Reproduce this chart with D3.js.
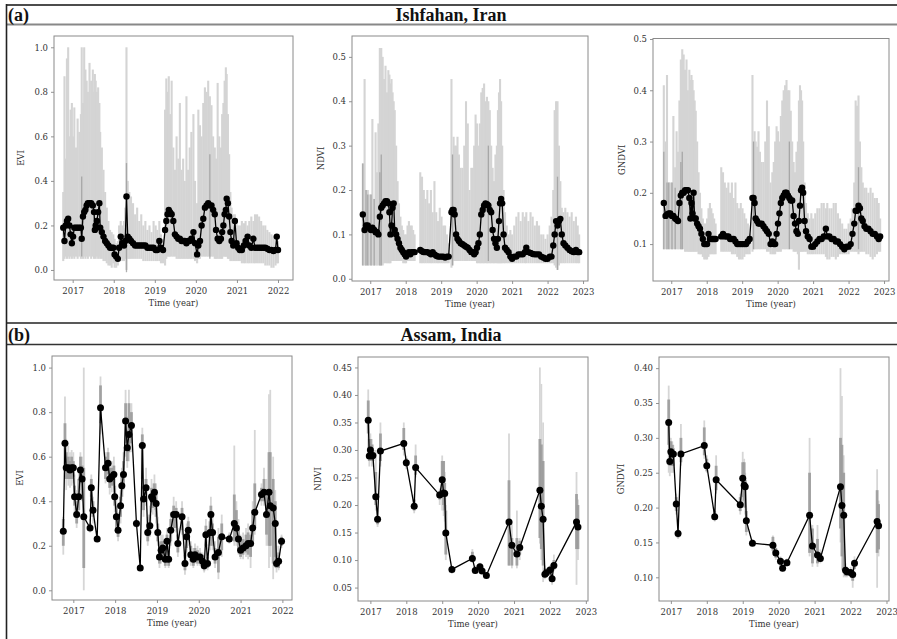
<!DOCTYPE html>
<html>
<head>
<meta charset="utf-8">
<script src="https://cdn.jsdelivr.net/npm/d3@7"></script>
<style>
  body { margin: 0; background: #fff; }
  svg { display: block; }
</style>
</head>
<body>
<script>

// ---------- labels ----------
const sectionTags = ["(a)", "(b)"];
const siteNames = ["Ishfahan, Iran", "Assam, India"];
const indexNames = ["EVI", "NDVI", "GNDVI"];
const years6 = [2017, 2018, 2019, 2020, 2021, 2022];
const years7 = [2017, 2018, 2019, 2020, 2021, 2022, 2023];
const evTicks = [0.0, 0.2, 0.4, 0.6, 0.8, 1.0];
const ndviATicks = [0.0, 0.1, 0.2, 0.3, 0.4, 0.5];
const gndviATicks = [0.1, 0.2, 0.3, 0.4, 0.5];
const ndviBTicks = [0.05, 0.10, 0.15, 0.20, 0.25, 0.30, 0.35, 0.40, 0.45];
const gndviBTicks = [0.10, 0.15, 0.20, 0.25, 0.30, 0.35, 0.40];

// ---------- (a) Ishfahan, EVI ----------
const evaT = [
  2016.77, 2016.80, 2016.83, 2016.86, 2016.89, 2016.92, 2016.95, 2016.98, 2017.01, 2017.04,
  2017.08, 2017.12, 2017.16, 2017.20, 2017.22, 2017.25, 2017.28, 2017.31, 2017.34, 2017.37,
  2017.41, 2017.45, 2017.49, 2017.52, 2017.54, 2017.56, 2017.59, 2017.62, 2017.65, 2017.67,
  2017.71, 2017.75, 2017.79, 2017.83, 2017.87, 2017.91, 2017.95, 2017.99, 2018.02, 2018.06,
  2018.10, 2018.13, 2018.17, 2018.21, 2018.25, 2018.28, 2018.31, 2018.34, 2018.38, 2018.42,
  2018.47, 2018.52, 2018.57, 2018.62, 2018.67, 2018.72, 2018.77, 2018.82, 2018.87, 2018.92,
  2018.97, 2019.02, 2019.06, 2019.11, 2019.15, 2019.20, 2019.25, 2019.28, 2019.31, 2019.34,
  2019.37, 2019.41, 2019.45, 2019.49, 2019.53, 2019.57, 2019.61, 2019.65, 2019.69, 2019.73,
  2019.77, 2019.81, 2019.85, 2019.89, 2019.94, 2019.98, 2020.03, 2020.06, 2020.10, 2020.14,
  2020.18, 2020.22, 2020.26, 2020.30, 2020.34, 2020.38, 2020.42, 2020.46, 2020.49, 2020.53,
  2020.57, 2020.61, 2020.64, 2020.67, 2020.70, 2020.73, 2020.75, 2020.78, 2020.81, 2020.84,
  2020.87, 2020.91, 2020.95, 2020.99, 2021.03, 2021.07, 2021.12, 2021.17, 2021.21, 2021.26,
  2021.30, 2021.35, 2021.40, 2021.44, 2021.49, 2021.54, 2021.59, 2021.64, 2021.69, 2021.74,
  2021.79, 2021.84, 2021.89, 2021.94, 2021.97, 2022.00
];
const evaM = [
  0.19, 0.13, 0.20, 0.22, 0.23, 0.20, 0.16, 0.12, 0.15, 0.19,
  0.19, 0.19, 0.19, 0.19, 0.14, 0.24, 0.26, 0.27, 0.29, 0.30,
  0.30, 0.30, 0.29, 0.26, 0.18, 0.20, 0.22, 0.26, 0.30, 0.19,
  0.17, 0.15, 0.13, 0.12, 0.11, 0.10, 0.10, 0.10, 0.07, 0.06,
  0.05, 0.10, 0.15, 0.12, 0.11, 0.13, 0.33, 0.15, 0.14, 0.13,
  0.12, 0.11, 0.11, 0.11, 0.11, 0.11, 0.11, 0.10, 0.10, 0.10,
  0.10, 0.09, 0.09, 0.13, 0.10, 0.09, 0.18, 0.22, 0.25, 0.27,
  0.26, 0.25, 0.22, 0.16, 0.15, 0.14, 0.14, 0.13, 0.13, 0.13,
  0.12, 0.13, 0.13, 0.14, 0.17, 0.12, 0.07, 0.11, 0.13, 0.20,
  0.23, 0.28, 0.29, 0.30, 0.29, 0.29, 0.27, 0.25, 0.18, 0.14,
  0.13, 0.14, 0.17, 0.20, 0.25, 0.27, 0.32, 0.30, 0.24, 0.17,
  0.13, 0.11, 0.22, 0.12, 0.10, 0.09, 0.09, 0.11, 0.13, 0.15,
  0.11, 0.10, 0.14, 0.10, 0.10, 0.10, 0.10, 0.10, 0.10, 0.095,
  0.09, 0.09, 0.085, 0.09, 0.15, 0.09
];
const evaHi = [
  0.35, 0.87, 0.50, 0.95, 1.00, 0.60, 0.72, 0.75, 0.60, 0.73,
  0.55, 0.68, 0.62, 0.70, 1.00, 0.75, 1.00, 0.90, 0.85, 0.80,
  0.93, 0.85, 0.90, 0.80, 0.88, 0.85, 0.80, 0.82, 0.75, 0.62,
  0.55, 0.45, 0.35, 0.28, 0.22, 0.18, 0.17, 0.16, 0.14, 0.12,
  0.13, 0.20, 0.22, 0.20, 0.22, 0.28, 1.00, 0.40, 0.35, 0.33,
  0.30, 0.25, 0.28, 0.22, 0.25, 0.20, 0.22, 0.18, 0.20, 0.17,
  0.22, 0.20, 0.18, 0.22, 0.16, 0.14, 0.72, 0.86, 0.80, 0.87,
  0.70, 0.85, 0.55, 0.45, 0.60, 0.50, 0.75, 0.45, 0.50, 0.40,
  0.78, 0.45, 0.55, 0.62, 0.70, 0.40, 0.30, 0.72, 0.65, 0.60,
  0.75, 0.82, 0.80, 0.85, 0.78, 0.74, 0.60, 0.55, 0.50, 0.84,
  0.60, 0.55, 0.70, 0.75, 0.85, 0.91, 0.88, 0.70, 0.52, 0.35,
  0.28, 0.25, 0.25, 0.22, 0.20, 0.20, 0.22, 0.21, 0.22, 0.20,
  0.22, 0.24, 0.22, 0.25, 0.25, 0.24, 0.22, 0.20, 0.20, 0.18,
  0.17, 0.16, 0.15, 0.15, 0.16, 0.13
];
const evaLo = [
  0.04, 0.05, 0.06, 0.05, 0.06, 0.05, 0.06, 0.05, 0.06, 0.05,
  0.06, 0.05, 0.06, 0.05, 0.06, 0.05, 0.06, 0.05, 0.06, 0.05,
  0.06, 0.05, 0.06, 0.05, 0.06, 0.05, 0.06, 0.05, 0.06, 0.05,
  0.05, 0.04, 0.04, 0.03, 0.02, 0.02, 0.01, 0.03, 0.01, 0.01,
  0.02, 0.04, 0.05, 0.04, 0.04, 0.05, 0.00, 0.05, 0.05, 0.05,
  0.05, 0.05, 0.05, 0.05, 0.05, 0.04, 0.04, 0.04, 0.04, 0.04,
  0.04, 0.04, 0.04, 0.04, 0.03, 0.03, 0.02, 0.05, 0.06, 0.06,
  0.06, 0.06, 0.06, 0.06, 0.05, 0.05, 0.05, 0.05, 0.05, 0.05,
  0.05, 0.05, 0.05, 0.05, 0.05, 0.04, 0.03, 0.05, 0.05, 0.06,
  0.06, 0.06, 0.06, 0.06, 0.06, 0.06, 0.06, 0.05, 0.05, 0.05,
  0.05, 0.05, 0.05, 0.06, 0.06, 0.06, 0.06, 0.05, 0.05, 0.04,
  0.04, 0.04, 0.04, 0.04, 0.04, 0.04, 0.03, 0.03, 0.03, 0.03,
  0.03, 0.03, 0.03, 0.03, 0.03, 0.03, 0.03, 0.03, 0.02, 0.02,
  0.02, 0.01, 0.01, 0.02, 0.03, 0.03
];
const evaDarkT = [2017.22, 2018.31, 2020.34];
const evaDarkLo = [0.06, -0.01, 0.05];
const evaDarkHi = [0.42, 0.48, 0.52];

// ---------- (a) Ishfahan, NDVI and GNDVI (same acquisition dates) ----------
const ndT = [
  2016.79, 2016.84, 2016.88, 2016.93, 2016.97, 2017.02, 2017.06, 2017.11, 2017.15, 2017.19,
  2017.23, 2017.27, 2017.31, 2017.35, 2017.39, 2017.43, 2017.47, 2017.51, 2017.54, 2017.57,
  2017.60, 2017.63, 2017.66, 2017.69, 2017.73, 2017.77, 2017.81, 2017.85, 2017.89, 2017.93,
  2017.97, 2018.01, 2018.05, 2018.09, 2018.13, 2018.17, 2018.21, 2018.25, 2018.41, 2018.46,
  2018.51, 2018.56, 2018.61, 2018.66, 2018.71, 2018.76, 2018.81, 2018.86, 2018.91, 2018.96,
  2019.01, 2019.06, 2019.11, 2019.16, 2019.21, 2019.29, 2019.32, 2019.35, 2019.38, 2019.42,
  2019.46, 2019.50, 2019.55, 2019.60, 2019.65, 2019.70, 2019.75, 2019.80, 2019.85, 2019.89,
  2019.93, 2019.97, 2020.01, 2020.05, 2020.09, 2020.13, 2020.17, 2020.21, 2020.25, 2020.29,
  2020.33, 2020.37, 2020.41, 2020.45, 2020.49, 2020.53, 2020.57, 2020.60, 2020.63, 2020.66,
  2020.69, 2020.72, 2020.76, 2020.80, 2020.85, 2020.90, 2020.95, 2021.00, 2021.06, 2021.12,
  2021.18, 2021.24, 2021.30, 2021.36, 2021.40, 2021.46, 2021.52, 2021.58, 2021.64, 2021.70,
  2021.76, 2021.82, 2021.88, 2021.94, 2022.00, 2022.06, 2022.11, 2022.16, 2022.20, 2022.24,
  2022.28, 2022.32, 2022.36, 2022.40, 2022.45, 2022.50, 2022.56, 2022.62, 2022.68, 2022.74,
  2022.80, 2022.85, 2022.89
];
const ndviaM = [
  0.145, 0.11, 0.12, 0.12, 0.115, 0.11, 0.115, 0.11, 0.105, 0.105,
  0.10, 0.14, 0.16, 0.165, 0.17, 0.175, 0.175, 0.17, 0.15, 0.10,
  0.12, 0.16, 0.17, 0.11, 0.10, 0.09, 0.08, 0.07, 0.065, 0.06,
  0.055, 0.05, 0.055, 0.06, 0.055, 0.06, 0.06, 0.06, 0.065, 0.062,
  0.06, 0.06, 0.06, 0.058, 0.055, 0.06, 0.055, 0.052, 0.05, 0.05,
  0.05, 0.05, 0.048, 0.05, 0.05, 0.15, 0.155, 0.155, 0.145, 0.10,
  0.09, 0.085, 0.08, 0.078, 0.075, 0.072, 0.07, 0.065, 0.06, 0.06,
  0.055, 0.06, 0.07, 0.08, 0.10, 0.145, 0.155, 0.165, 0.17, 0.168,
  0.165, 0.155, 0.15, 0.11, 0.09, 0.08, 0.07, 0.09, 0.13, 0.17,
  0.18, 0.17, 0.10, 0.07, 0.065, 0.06, 0.05, 0.045, 0.05, 0.05,
  0.055, 0.055, 0.055, 0.06, 0.07, 0.06, 0.058, 0.056, 0.055, 0.055,
  0.055, 0.05, 0.048, 0.045, 0.045, 0.05, 0.05, 0.075, 0.10, 0.13,
  0.12, 0.13, 0.135, 0.10, 0.08, 0.075, 0.07, 0.065, 0.062, 0.06,
  0.065, 0.06, 0.06
];
const ndviaHi = [
  0.26, 0.45, 0.20, 0.20, 0.19, 0.19, 0.36, 0.18, 0.33, 0.24,
  0.35, 0.52, 0.52, 0.50, 0.45, 0.48, 0.42, 0.47, 0.46, 0.44,
  0.45, 0.42, 0.40, 0.38, 0.30, 0.22, 0.17, 0.14, 0.12, 0.11,
  0.10, 0.10, 0.12, 0.13, 0.12, 0.12, 0.11, 0.10, 0.24, 0.23,
  0.20, 0.18, 0.20, 0.17, 0.20, 0.15, 0.22, 0.15, 0.13, 0.16,
  0.14, 0.12, 0.12, 0.10, 0.08, 0.45, 0.28, 0.32, 0.30, 0.30,
  0.32, 0.28, 0.25, 0.25, 0.30, 0.40, 0.35, 0.20, 0.25, 0.25,
  0.30, 0.37, 0.35, 0.30, 0.35, 0.42, 0.43, 0.44, 0.40, 0.41,
  0.40, 0.38, 0.30, 0.25, 0.22, 0.28, 0.30, 0.38, 0.42, 0.45,
  0.40, 0.30, 0.20, 0.15, 0.12, 0.10, 0.11, 0.10, 0.12, 0.14,
  0.15, 0.13, 0.15, 0.14, 0.15, 0.13, 0.15, 0.14, 0.12, 0.13,
  0.12, 0.10, 0.10, 0.09, 0.10, 0.12, 0.14, 0.20, 0.38, 0.40,
  0.40, 0.30, 0.22, 0.16, 0.15, 0.16, 0.15, 0.14, 0.15, 0.13,
  0.14, 0.12, 0.10
];
const ndviaLo = [
  0.03, 0.03, 0.03, 0.03, 0.03, 0.03, 0.03, 0.03, 0.03, 0.03,
  0.03, 0.03, 0.03, 0.03, 0.035, 0.035, 0.035, 0.035, 0.035, 0.035,
  0.04, 0.04, 0.04, 0.04, 0.04, 0.04, 0.04, 0.04, 0.04, 0.035,
  0.035, 0.035, 0.04, 0.04, 0.04, 0.04, 0.04, 0.04, 0.035, 0.035,
  0.035, 0.035, 0.035, 0.035, 0.035, 0.035, 0.035, 0.035, 0.035, 0.035,
  0.035, 0.035, 0.035, 0.035, 0.035, 0.025, 0.03, 0.04, 0.04, 0.04,
  0.04, 0.04, 0.04, 0.04, 0.04, 0.04, 0.04, 0.04, 0.04, 0.04,
  0.04, 0.04, 0.035, 0.035, 0.035, 0.035, 0.035, 0.035, 0.035, 0.035,
  0.035, 0.035, 0.035, 0.035, 0.035, 0.035, 0.035, 0.035, 0.035, 0.035,
  0.035, 0.035, 0.035, 0.035, 0.035, 0.035, 0.035, 0.035, 0.035, 0.035,
  0.035, 0.035, 0.035, 0.035, 0.035, 0.035, 0.035, 0.035, 0.035, 0.035,
  0.035, 0.035, 0.035, 0.035, 0.035, 0.035, 0.035, 0.035, 0.03, 0.025,
  0.02, 0.03, 0.035, 0.035, 0.035, 0.035, 0.035, 0.035, 0.035, 0.035,
  0.035, 0.035, 0.035
];
const gndviaM = [
  0.18, 0.155, 0.158, 0.16, 0.16, 0.155, 0.155, 0.15, 0.148, 0.145,
  0.18, 0.195, 0.20, 0.20, 0.205, 0.205, 0.205, 0.19, 0.15, 0.18,
  0.16, 0.20, 0.15, 0.15, 0.14, 0.135, 0.13, 0.12, 0.11, 0.10,
  0.10, 0.10, 0.12, 0.11, 0.11, 0.11, 0.11, 0.11, 0.115, 0.12,
  0.115, 0.115, 0.115, 0.11, 0.11, 0.11, 0.105, 0.10, 0.10, 0.10,
  0.10, 0.10, 0.10, 0.105, 0.11, 0.19, 0.19, 0.18, 0.15, 0.145,
  0.14, 0.14, 0.14, 0.135, 0.13, 0.125, 0.12, 0.10, 0.105, 0.10,
  0.10, 0.12, 0.14, 0.16, 0.18, 0.19, 0.195, 0.20, 0.20, 0.195,
  0.19, 0.185, 0.185, 0.155, 0.14, 0.125, 0.12, 0.145, 0.175, 0.205,
  0.21, 0.20, 0.145, 0.125, 0.115, 0.11, 0.095, 0.095, 0.10, 0.105,
  0.11, 0.11, 0.115, 0.13, 0.115, 0.115, 0.11, 0.11, 0.105, 0.105,
  0.10, 0.095, 0.09, 0.095, 0.095, 0.10, 0.12, 0.14, 0.165, 0.165,
  0.175, 0.17, 0.15, 0.145, 0.135, 0.13, 0.13, 0.125, 0.12, 0.12,
  0.115, 0.11, 0.115
];
const gndviaHi = [
  0.41, 0.30, 0.43, 0.22, 0.22, 0.22, 0.35, 0.25, 0.32, 0.28,
  0.38, 0.46, 0.48, 0.47, 0.44, 0.46, 0.40, 0.44, 0.42, 0.43,
  0.42, 0.40, 0.38, 0.36, 0.30, 0.24, 0.20, 0.17, 0.15, 0.14,
  0.14, 0.15, 0.17, 0.18, 0.17, 0.16, 0.15, 0.14, 0.25, 0.24,
  0.22, 0.21, 0.22, 0.20, 0.22, 0.19, 0.22, 0.18, 0.17, 0.18,
  0.17, 0.16, 0.15, 0.14, 0.12, 0.43, 0.30, 0.32, 0.30, 0.29,
  0.32, 0.28, 0.26, 0.26, 0.30, 0.38, 0.33, 0.22, 0.24, 0.26,
  0.30, 0.33, 0.32, 0.30, 0.35, 0.38, 0.40, 0.41, 0.42, 0.40,
  0.40, 0.36, 0.30, 0.26, 0.24, 0.28, 0.30, 0.38, 0.41, 0.40,
  0.38, 0.30, 0.22, 0.18, 0.16, 0.15, 0.16, 0.15, 0.16, 0.17,
  0.17, 0.18, 0.18, 0.17, 0.18, 0.17, 0.17, 0.18, 0.18, 0.16,
  0.15, 0.14, 0.13, 0.13, 0.14, 0.15, 0.17, 0.22, 0.38, 0.37,
  0.39, 0.30, 0.25, 0.22, 0.21, 0.21, 0.20, 0.21, 0.20, 0.19,
  0.19, 0.18, 0.15
];
const gndviaLo = [
  0.09, 0.09, 0.09, 0.09, 0.09, 0.09, 0.09, 0.09, 0.09, 0.09,
  0.09, 0.09, 0.09, 0.09, 0.085, 0.085, 0.085, 0.085, 0.085, 0.085,
  0.085, 0.085, 0.085, 0.085, 0.085, 0.08, 0.08, 0.08, 0.075, 0.07,
  0.07, 0.07, 0.075, 0.08, 0.08, 0.08, 0.08, 0.08, 0.085, 0.085,
  0.085, 0.085, 0.085, 0.085, 0.08, 0.08, 0.08, 0.075, 0.07, 0.07,
  0.07, 0.075, 0.08, 0.08, 0.08, 0.085, 0.09, 0.09, 0.09, 0.09,
  0.09, 0.09, 0.09, 0.09, 0.09, 0.085, 0.085, 0.08, 0.08, 0.08,
  0.08, 0.085, 0.085, 0.085, 0.085, 0.09, 0.09, 0.09, 0.09, 0.09,
  0.09, 0.09, 0.09, 0.085, 0.085, 0.085, 0.08, 0.05, 0.085, 0.085,
  0.085, 0.085, 0.085, 0.085, 0.08, 0.08, 0.08, 0.08, 0.08, 0.08,
  0.08, 0.08, 0.08, 0.075, 0.07, 0.07, 0.075, 0.075, 0.07, 0.075,
  0.08, 0.08, 0.08, 0.08, 0.08, 0.085, 0.085, 0.085, 0.085, 0.085,
  0.08, 0.085, 0.085, 0.085, 0.085, 0.08, 0.08, 0.075, 0.07, 0.075,
  0.08, 0.085, 0.085
];
const ndDarkT = [2016.79, 2016.88, 2016.93, 2017.02, 2017.11, 2017.27, 2017.31, 2019.32, 2020.33, 2022.28];
const ndviaDarkLo = [0.03, 0.03, 0.03, 0.03, 0.03, 0.03, 0.03, 0.03, 0.04, 0.02];
const ndviaDarkHi = [0.26, 0.20, 0.19, 0.19, 0.18, 0.24, 0.28, 0.28, 0.30, 0.23];
const gndviaDarkLo = [0.09, 0.09, 0.09, 0.09, 0.09, 0.09, 0.09, 0.09, 0.09, 0.09];
const gndviaDarkHi = [0.28, 0.22, 0.22, 0.22, 0.21, 0.26, 0.28, 0.30, 0.30, 0.25];

// ---------- (b) Assam, EVI ----------
const evbT = [
  2016.76, 2016.80, 2016.83, 2016.88, 2016.92, 2016.96, 2017.00, 2017.03, 2017.08, 2017.13,
  2017.17, 2017.21, 2017.25, 2017.40, 2017.43, 2017.47, 2017.57, 2017.65, 2017.77, 2017.83,
  2017.87, 2017.92, 2017.97, 2017.99, 2018.03, 2018.07, 2018.13, 2018.16, 2018.20, 2018.25,
  2018.29, 2018.33, 2018.39, 2018.51, 2018.60, 2018.65, 2018.68, 2018.74, 2018.78, 2018.83,
  2018.87, 2018.90, 2018.94, 2018.98, 2019.02, 2019.06, 2019.10, 2019.14, 2019.20, 2019.24,
  2019.28, 2019.33, 2019.40, 2019.46, 2019.50, 2019.60, 2019.67, 2019.71, 2019.75, 2019.81,
  2019.87, 2019.91, 2019.97, 2020.03, 2020.09, 2020.13, 2020.17, 2020.21, 2020.27, 2020.29,
  2020.33, 2020.39, 2020.47, 2020.55, 2020.73, 2020.85, 2020.90, 2020.95, 2021.00, 2021.06,
  2021.13, 2021.18, 2021.24, 2021.29, 2021.34, 2021.50, 2021.56, 2021.62, 2021.68, 2021.71,
  2021.78, 2021.83, 2021.86, 2021.91, 2021.98
];
const evbM = [
  0.265, 0.66, 0.55, 0.55, 0.54, 0.55, 0.55, 0.42, 0.34, 0.42,
  0.54, 0.50, 0.33, 0.28, 0.46, 0.36, 0.23, 0.82, 0.55, 0.57,
  0.50, 0.51, 0.52, 0.42, 0.33, 0.27, 0.38, 0.47, 0.52, 0.76,
  0.64, 0.70, 0.74, 0.30, 0.10, 0.65, 0.41, 0.46, 0.26, 0.29,
  0.42, 0.41, 0.44, 0.39, 0.26, 0.15, 0.18, 0.19, 0.14, 0.22,
  0.14, 0.27, 0.34, 0.34, 0.21, 0.33, 0.12, 0.24, 0.27, 0.16,
  0.14, 0.16, 0.15, 0.15, 0.13, 0.11, 0.25, 0.12, 0.26, 0.34,
  0.26, 0.15, 0.17, 0.24, 0.23, 0.30, 0.28, 0.23, 0.18, 0.19,
  0.20, 0.21, 0.21, 0.28, 0.35, 0.43, 0.44, 0.34, 0.44, 0.38,
  0.37, 0.30, 0.12, 0.13, 0.22
];
const evbHi = [
  0.33, 0.87, 0.68, 0.65, 0.62, 0.63, 0.62, 0.52, 0.45, 0.55,
  0.62, 0.60, 1.00, 0.32, 0.52, 0.42, 0.25, 0.96, 0.62, 0.64,
  0.58, 0.58, 0.60, 0.50, 0.42, 0.35, 0.45, 0.55, 0.62, 0.90,
  0.78, 0.90, 0.84, 0.32, 0.12, 0.73, 0.50, 0.55, 0.33, 0.38,
  0.50, 0.48, 0.52, 0.48, 0.33, 0.22, 0.25, 0.25, 0.20, 0.28,
  0.20, 0.35, 0.42, 0.40, 0.28, 0.40, 0.18, 0.30, 0.33, 0.22,
  0.19, 0.21, 0.20, 0.19, 0.17, 0.15, 0.32, 0.17, 0.35, 0.42,
  0.34, 0.22, 0.28, 0.34, 0.26, 0.65, 0.40, 0.32, 0.25, 0.26,
  0.28, 0.30, 0.28, 0.40, 0.72, 0.48, 0.55, 0.50, 0.88, 0.90,
  0.60, 0.45, 0.20, 0.20, 0.25
];
const evbLo = [
  0.16, 0.50, 0.45, 0.47, 0.46, 0.47, 0.48, 0.35, 0.28, 0.33,
  0.45, 0.40, 0.00, 0.26, 0.40, 0.30, 0.22, 0.70, 0.48, 0.50,
  0.43, 0.44, 0.44, 0.35, 0.26, 0.22, 0.30, 0.40, 0.45, 0.60,
  0.55, 0.58, 0.62, 0.28, 0.09, 0.45, 0.33, 0.38, 0.20, 0.24,
  0.35, 0.34, 0.36, 0.30, 0.20, 0.10, 0.12, 0.13, 0.10, 0.16,
  0.10, 0.20, 0.26, 0.26, 0.15, 0.25, 0.07, 0.17, 0.20, 0.11,
  0.10, 0.12, 0.11, 0.11, 0.10, 0.08, 0.18, 0.09, 0.18, 0.25,
  0.18, 0.10, 0.05, 0.15, 0.21, 0.20, 0.20, 0.16, 0.14, 0.14,
  0.15, 0.14, 0.10, 0.20, 0.25, 0.38, 0.38, 0.20, 0.10, 0.15,
  0.05, 0.10, 0.08, 0.09, 0.19
];
const evbDHi = [
  0.32, 0.75, 0.62, 0.60, 0.58, 0.60, 0.58, 0.47, 0.40, 0.50,
  0.60, 0.56, 0.55, 0.30, 0.50, 0.40, 0.24, 0.92, 0.60, 0.62,
  0.55, 0.55, 0.56, 0.47, 0.38, 0.32, 0.42, 0.52, 0.58, 0.84,
  0.72, 0.84, 0.80, 0.31, 0.11, 0.70, 0.47, 0.50, 0.30, 0.34,
  0.46, 0.45, 0.48, 0.44, 0.30, 0.19, 0.22, 0.22, 0.18, 0.25,
  0.18, 0.32, 0.38, 0.37, 0.25, 0.37, 0.16, 0.28, 0.31, 0.20,
  0.17, 0.19, 0.18, 0.17, 0.16, 0.13, 0.29, 0.15, 0.31, 0.38,
  0.30, 0.19, 0.24, 0.30, 0.25, 0.43, 0.36, 0.28, 0.22, 0.23,
  0.25, 0.26, 0.25, 0.36, 0.48, 0.46, 0.50, 0.45, 0.62, 0.62,
  0.50, 0.40, 0.16, 0.17, 0.24
];
const evbDLo = [
  0.20, 0.55, 0.50, 0.50, 0.50, 0.50, 0.51, 0.38, 0.30, 0.36,
  0.48, 0.43, 0.10, 0.27, 0.42, 0.33, 0.22, 0.75, 0.50, 0.52,
  0.46, 0.47, 0.47, 0.38, 0.28, 0.24, 0.33, 0.42, 0.47, 0.66,
  0.58, 0.62, 0.66, 0.29, 0.09, 0.50, 0.36, 0.40, 0.22, 0.26,
  0.38, 0.37, 0.39, 0.33, 0.22, 0.12, 0.14, 0.15, 0.11, 0.18,
  0.11, 0.22, 0.28, 0.28, 0.17, 0.27, 0.09, 0.19, 0.22, 0.13,
  0.11, 0.13, 0.12, 0.12, 0.11, 0.09, 0.20, 0.10, 0.20, 0.28,
  0.20, 0.12, 0.08, 0.18, 0.22, 0.22, 0.22, 0.18, 0.15, 0.16,
  0.17, 0.16, 0.15, 0.22, 0.28, 0.40, 0.40, 0.25, 0.20, 0.20,
  0.12, 0.15, 0.10, 0.10, 0.20
];

// ---------- (b) Assam, NDVI and GNDVI (same dates) ----------
const nbT = [
  2016.94, 2016.97, 2017.00, 2017.04, 2017.07, 2017.15, 2017.20, 2017.28, 2017.93, 2018.00,
  2018.22, 2018.26, 2018.93, 2019.00, 2019.04, 2019.07, 2019.10, 2019.27, 2019.84, 2019.92,
  2020.05, 2020.11, 2020.23, 2020.86, 2020.94, 2021.08, 2021.16, 2021.72, 2021.76, 2021.81,
  2021.86, 2021.90, 2022.00, 2022.06, 2022.11, 2022.74, 2022.78
];
const ndvibM = [
  0.354, 0.289, 0.30, 0.289, 0.29, 0.215, 0.174, 0.298, 0.312, 0.277,
  0.198, 0.268, 0.218, 0.246, 0.222, 0.221, 0.149, 0.083, 0.103, 0.081,
  0.088, 0.080, 0.072, 0.169, 0.127, 0.111, 0.123, 0.227, 0.198, 0.174,
  0.074, 0.077, 0.082, 0.066, 0.090, 0.169, 0.160
];
const ndvibHi = [
  0.41, 0.33, 0.33, 0.32, 0.31, 0.30, 0.19, 0.35, 0.35, 0.29,
  0.22, 0.31, 0.23, 0.29, 0.28, 0.26, 0.20, 0.09, 0.12, 0.09,
  0.095, 0.085, 0.078, 0.33, 0.17, 0.19, 0.14, 0.45, 0.42, 0.35,
  0.09, 0.08, 0.09, 0.075, 0.11, 0.26, 0.21
];
const ndvibLo = [
  0.30, 0.27, 0.28, 0.27, 0.27, 0.19, 0.16, 0.27, 0.29, 0.265,
  0.185, 0.25, 0.20, 0.19, 0.18, 0.17, 0.10, 0.075, 0.095, 0.075,
  0.078, 0.075, 0.068, 0.09, 0.085, 0.085, 0.10, 0.13, 0.10, 0.06,
  0.065, 0.07, 0.07, 0.055, 0.08, 0.055, 0.10
];
const ndvibDHi = [
  0.39, 0.32, 0.32, 0.31, 0.30, 0.26, 0.18, 0.33, 0.34, 0.285,
  0.21, 0.29, 0.225, 0.28, 0.28, 0.24, 0.19, 0.088, 0.115, 0.088,
  0.092, 0.083, 0.076, 0.245, 0.14, 0.14, 0.135, 0.32, 0.31, 0.28,
  0.085, 0.079, 0.087, 0.072, 0.10, 0.22, 0.20
];
const ndvibDLo = [
  0.33, 0.28, 0.29, 0.28, 0.28, 0.20, 0.165, 0.28, 0.30, 0.27,
  0.19, 0.255, 0.21, 0.22, 0.20, 0.19, 0.11, 0.078, 0.098, 0.077,
  0.08, 0.077, 0.069, 0.09, 0.09, 0.09, 0.11, 0.14, 0.12, 0.09,
  0.068, 0.072, 0.075, 0.06, 0.082, 0.12, 0.12
];
const gndvibM = [
  0.322, 0.266, 0.28, 0.277, 0.277, 0.205, 0.163, 0.277, 0.289, 0.26,
  0.187, 0.24, 0.204, 0.242, 0.232, 0.23, 0.181, 0.149, 0.146, 0.135,
  0.123, 0.113, 0.121, 0.189, 0.145, 0.132, 0.127, 0.23, 0.203, 0.189,
  0.11, 0.108, 0.107, 0.104, 0.12, 0.18, 0.174
];
const gndvibHi = [
  0.375, 0.30, 0.30, 0.295, 0.29, 0.22, 0.17, 0.32, 0.325, 0.275,
  0.20, 0.275, 0.22, 0.28, 0.27, 0.25, 0.20, 0.155, 0.16, 0.145,
  0.13, 0.12, 0.127, 0.30, 0.175, 0.175, 0.14, 0.40, 0.36, 0.275,
  0.12, 0.115, 0.115, 0.115, 0.13, 0.255, 0.21
];
const gndvibLo = [
  0.25, 0.245, 0.25, 0.25, 0.25, 0.19, 0.155, 0.26, 0.27, 0.25,
  0.18, 0.22, 0.19, 0.20, 0.20, 0.19, 0.16, 0.145, 0.135, 0.125,
  0.115, 0.108, 0.115, 0.13, 0.115, 0.115, 0.12, 0.15, 0.11, 0.10,
  0.10, 0.10, 0.10, 0.085, 0.11, 0.085, 0.13
];
const gndvibDHi = [
  0.355, 0.295, 0.295, 0.29, 0.285, 0.215, 0.168, 0.30, 0.315, 0.27,
  0.195, 0.26, 0.215, 0.265, 0.265, 0.24, 0.195, 0.153, 0.158, 0.142,
  0.128, 0.118, 0.125, 0.25, 0.17, 0.155, 0.135, 0.30, 0.29, 0.25,
  0.115, 0.112, 0.112, 0.11, 0.125, 0.225, 0.205
];
const gndvibDLo = [
  0.29, 0.26, 0.26, 0.26, 0.26, 0.195, 0.157, 0.265, 0.275, 0.252,
  0.182, 0.225, 0.195, 0.215, 0.21, 0.20, 0.165, 0.146, 0.138, 0.128,
  0.117, 0.11, 0.117, 0.135, 0.12, 0.12, 0.122, 0.17, 0.13, 0.11,
  0.102, 0.102, 0.102, 0.095, 0.112, 0.135, 0.14
];

// ---------- page ----------
var width = 897;
var height = 639;
var serif = "'Liberation Serif', 'Times New Roman', serif";
var tickFont = "'DejaVu Serif', serif";

var svg = d3.select("body").append("svg")
    .attr("width", width)
    .attr("height", height);

svg.append("rect").attr("width", width).attr("height", height).attr("fill", "#fff");

// table-like frame with the two section bars
var rules = [
  {y: 5, c: "#111", w: 1.6},
  {y: 24.5, c: "#888", w: 2},
  {y: 323, c: "#222", w: 1.6},
  {y: 344.5, c: "#333", w: 1.6}
];
svg.selectAll(".rule").data(rules).enter().append("line")
    .attr("x1", 6).attr("x2", width)
    .attr("y1", function(d) { return d.y; })
    .attr("y2", function(d) { return d.y; })
    .attr("stroke", function(d) { return d.c; })
    .attr("stroke-width", function(d) { return d.w; });
svg.append("line")
    .attr("x1", 6.5).attr("x2", 6.5).attr("y1", 4).attr("y2", height)
    .attr("stroke", "#222").attr("stroke-width", 1.6);

var barBase = [20.5, 340.5];
sectionTags.forEach(function(tag, i) {
  svg.append("text")
      .attr("x", 8).attr("y", barBase[i])
      .attr("font-family", serif).attr("font-weight", "bold").attr("font-size", 18)
      .attr("fill", "#111")
      .text(tag);
  svg.append("text")
      .attr("x", 451).attr("y", barBase[i])
      .attr("text-anchor", "middle")
      .attr("font-family", serif).attr("font-weight", "bold").attr("font-size", 18)
      .attr("fill", "#111")
      .text(siteNames[i]);
});

var panels = [
  {t: evaT, m: evaM, hi: evaHi, lo: evaLo, dt: evaDarkT, dhi: evaDarkHi, dlo: evaDarkLo,
   box: [54, 36, 293, 280], xd: [2016.545, 2022.365], yd: [-0.045, 1.0507],
   xt: years6, yt: evTicks, yf: ".1f", name: indexNames[0], lx: 24, dense: true},
  {t: ndT, m: ndviaM, hi: ndviaHi, lo: ndviaLo, dt: ndDarkT, dhi: ndviaDarkHi, dlo: ndviaDarkLo,
   box: [352, 36, 588, 281], xd: [2016.485, 2023.14], yd: [-0.005, 0.547],
   xt: years7, yt: ndviATicks, yf: ".1f", name: indexNames[1], lx: 324, dense: true},
  {t: ndT, m: gndviaM, hi: gndviaHi, lo: gndviaLo, dt: ndDarkT, dhi: gndviaDarkHi, dlo: gndviaDarkLo,
   box: [653, 38.5, 889, 281], xd: [2016.485, 2023.14], yd: [0.028, 0.501],
   xt: years7, yt: gndviATicks, yf: ".1f", name: indexNames[2], lx: 625, dense: true},
  {t: evbT, m: evbM, hi: evbHi, lo: evbLo, dt: evbT, dhi: evbDHi, dlo: evbDLo,
   box: [52, 356, 292, 600], xd: [2016.49, 2022.23], yd: [-0.0435, 1.052],
   xt: years6, yt: evTicks, yf: ".1f", name: indexNames[0], lx: 23, dense: false},
  {t: nbT, m: ndvibM, hi: ndvibHi, lo: ndvibLo, dt: nbT, dhi: ndvibDHi, dlo: ndvibDLo,
   box: [358, 357, 588, 601], xd: [2016.655, 2023.06], yd: [0.0256, 0.469],
   xt: years7, yt: ndviBTicks, yf: ".2f", name: indexNames[1], lx: 321, dense: false},
  {t: nbT, m: gndvibM, hi: gndvibHi, lo: gndvibLo, dt: nbT, dhi: gndvibDHi, dlo: gndvibDLo,
   box: [659, 357, 889, 601], xd: [2016.67, 2023.07], yd: [0.066, 0.416],
   xt: years7, yt: gndviBTicks, yf: ".2f", name: indexNames[2], lx: 624, dense: false}
];

panels.forEach(function(p, k) {
  var left = p.box[0], top = p.box[1], right = p.box[2], bottom = p.box[3];
  var x = d3.scaleLinear().domain(p.xd).range([left, right]);
  var y = d3.scaleLinear().domain(p.yd).range([bottom, top]);
  var idx = d3.range(p.t.length);
  var didx = d3.range(p.dt.length);

  svg.append("clipPath").attr("id", "clip" + k)
    .append("rect")
      .attr("x", left).attr("y", top)
      .attr("width", right - left).attr("height", bottom - top);

  var g = svg.append("g").attr("clip-path", "url(#clip" + k + ")");

  // min-max range of each date
  g.selectAll(".range").data(idx).enter().append("line")
      .attr("x1", function(i) { return x(p.t[i]); })
      .attr("x2", function(i) { return x(p.t[i]); })
      .attr("y1", function(i) { return y(p.lo[i]); })
      .attr("y2", function(i) { return y(p.hi[i]); })
      .attr("stroke", p.dense ? "#d4d4d4" : "#d6d6d6")
      .attr("stroke-width", p.dense ? 2.1 : 1.8);

  // inner spread
  g.selectAll(".spread").data(didx).enter().append("line")
      .attr("x1", function(i) { return x(p.dt[i]); })
      .attr("x2", function(i) { return x(p.dt[i]); })
      .attr("y1", function(i) { return y(p.dlo[i]); })
      .attr("y2", function(i) { return y(p.dhi[i]); })
      .attr("stroke", "#9c9c9c")
      .style("opacity", p.dense ? 0.8 : 0.9)
      .attr("stroke-width", p.dense ? 1.3 : 2.8);

  var line = d3.line()
      .x(function(i) { return x(p.t[i]); })
      .y(function(i) { return y(p.m[i]); });

  g.append("path")
      .datum(idx)
      .attr("d", line)
      .attr("fill", "none")
      .attr("stroke", "#000")
      .attr("stroke-width", 1.3);

  g.selectAll(".dot").data(idx).enter().append("circle")
      .attr("cx", function(i) { return x(p.t[i]); })
      .attr("cy", function(i) { return y(p.m[i]); })
      .attr("r", p.dense ? 3.2 : 3.5)
      .attr("fill", "#000");

  // axes
  var xAxis = svg.append("g")
      .attr("transform", "translate(0," + bottom + ")")
      .call(d3.axisBottom(x).tickValues(p.xt).tickFormat(d3.format("d"))
        .tickSize(3).tickPadding(5));
  var yAxis = svg.append("g")
      .attr("transform", "translate(" + left + ",0)")
      .call(d3.axisLeft(y).tickValues(p.yt).tickFormat(d3.format(p.yf))
        .tickSize(3).tickPadding(3));

  [xAxis, yAxis].forEach(function(ax) {
    ax.select(".domain").remove();
    ax.selectAll(".tick line").attr("stroke", "#777").attr("stroke-width", 0.8);
    ax.selectAll(".tick text")
        .attr("font-family", tickFont)
        .attr("font-size", 8.5)
        .attr("fill", "#333");
  });

  svg.append("rect")
      .attr("x", left).attr("y", top)
      .attr("width", right - left).attr("height", bottom - top)
      .attr("fill", "none")
      .attr("stroke", "#8a8a8a")
      .attr("stroke-width", 1);

  svg.append("text")
      .attr("x", (left + right) / 2)
      .attr("y", bottom + 26)
      .attr("text-anchor", "middle")
      .attr("font-family", tickFont)
      .attr("font-size", 8.5)
      .attr("fill", "#333")
      .text("Time (year)");

  svg.append("text")
      .attr("transform", "translate(" + p.lx + "," + ((top + bottom) / 2) + ") rotate(-90)")
      .attr("text-anchor", "middle")
      .attr("font-family", tickFont)
      .attr("font-size", 8.5)
      .attr("fill", "#333")
      .text(p.name);
});

</script>
</body>
</html>
